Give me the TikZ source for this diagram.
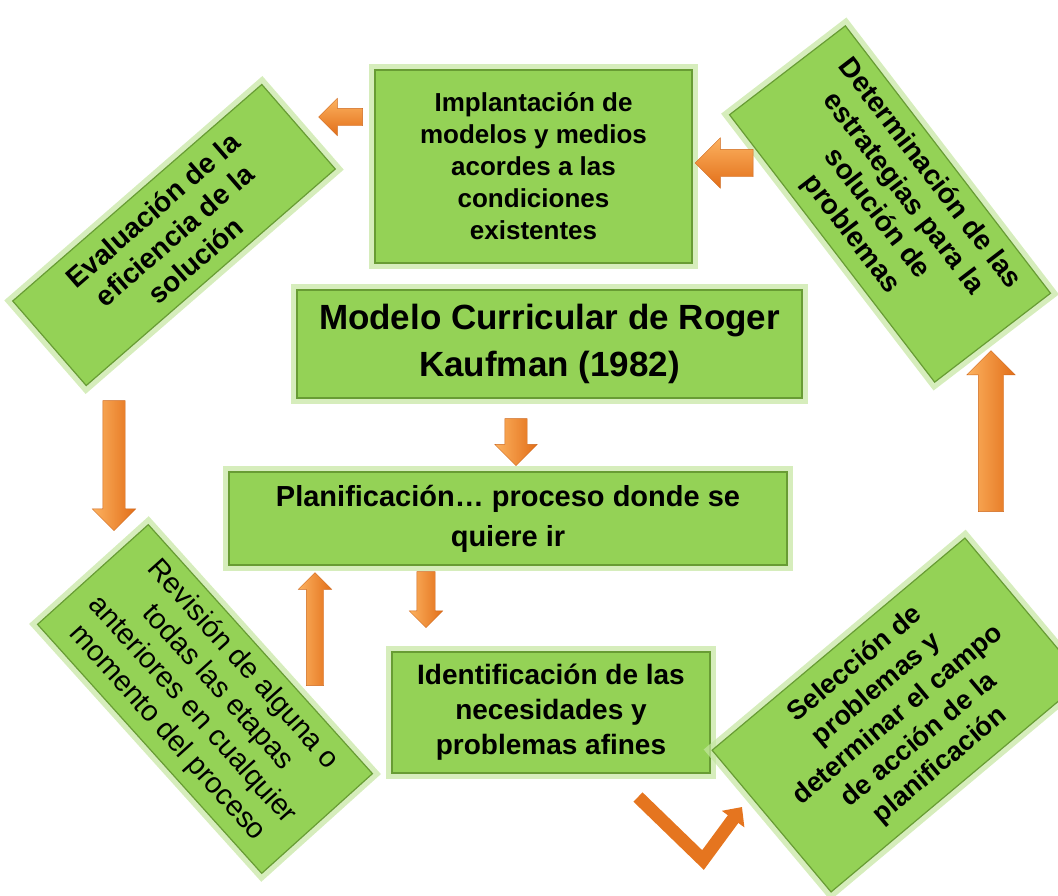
\documentclass[tikz,border=0pt]{standalone}
\usepackage{fontspec}
\setmainfont{Liberation Sans}
\usetikzlibrary{shapes.arrows,arrows.meta}

\definecolor{boxgreen}{RGB}{148,210,86}
\definecolor{boxedge}{RGB}{104,156,52}
\definecolor{boxglow}{RGB}{196,230,160}
\definecolor{arrowlight}{RGB}{252,178,96}
\definecolor{arrowdark}{RGB}{226,110,24}
\definecolor{arrowedge}{RGB}{205,104,30}

\tikzset{
  stage/.style={draw=boxedge, line width=1.2pt, fill=boxgreen, inner sep=0pt, align=center,
    preaction={draw=boxglow, line width=12pt, opacity=0.7}},
  flow/.style 2 args={single arrow, inner xsep=0pt, inner ysep=#1, single arrow head extend=#2,
    top color=arrowlight, bottom color=arrowdark, draw=arrowedge, line width=0.4pt},
  upright/.style={left color=arrowlight, right color=arrowdark},
  bentflow/.style={draw=arrowdark!90!arrowlight, line width=13pt, line join=miter,
    -{Triangle[width=27pt,length=15pt]}}
}

\begin{document}
\begin{tikzpicture}[x=1pt,y=-1pt]
    \useasboundingbox (0,0) rectangle (1058,895);
    \clip (0,0) rectangle (1058,895);

    % middle column
    \node[stage, minimum width=317pt, minimum height=193pt,
      font=\fontsize{26}{32}\selectfont\bfseries] (implant) at (533.5,166.5)
      {Implantación de\\modelos y medios\\acordes a las\\condiciones\\existentes};
    \node[stage, minimum width=505pt, minimum height=108pt,
      font=\fontsize{35}{47}\selectfont\bfseries] (modelo) at (549.5,344)
      {Modelo Curricular de Roger\\Kaufman (1982)};
    \node[stage, minimum width=558pt, minimum height=93pt,
      font=\fontsize{29}{40}\selectfont\bfseries] (plan) at (508,518.5)
      {Planificación… proceso donde se\\quiere ir};
    \node[stage, minimum width=318pt, minimum height=121pt,
      font=\fontsize{28}{35}\selectfont\bfseries] (ident) at (551,712.5)
      {Identificación de las\\necesidades y\\problemas afines};

    % tilted boxes round the cycle
    \node[stage, rotate=41, minimum width=330pt, minimum height=112pt,
      font=\fontsize{28}{33}\selectfont\bfseries] (evalua) at (174,235)
      {Evaluación de la\\eficiencia de la\\solución};
    \node[stage, rotate=-52.5, minimum width=337pt, minimum height=146pt,
      font=\fontsize{28}{33}\selectfont\bfseries] (estrat) at (890,204)
      {Determinación de las\\estrategias para la\\solución de\\problemas};
    \node[stage, rotate=-48, minimum width=335pt, minimum height=149pt,
      font=\fontsize{29}{34}\selectfont] (revis) at (205,699)
      {Revisión de alguna o\\todas las etapas\\anteriores en cualquier\\momento del proceso};
    \node[stage, rotate=40, minimum width=330pt, minimum height=185pt,
      font=\fontsize{27}{33}\selectfont\bfseries] (selec) at (898,715)
      {Selección de\\problemas y\\determinar el campo\\de acción de la\\planificación};

    % block arrows
    \node[flow={8.5pt}{10pt}, rotate=180, minimum height=44pt] (toeval) at (345,117) {};
    \node[flow={13.5pt}{11.5pt}, rotate=180, minimum height=58pt] (toimpl) at (731,163) {};
    \node[flow={11pt}{10.5pt}, upright, rotate=-90, minimum height=130pt] (torevis) at (114,460) {};
    \node[flow={12.5pt}{11.5pt}, upright, rotate=90, minimum height=161pt] (toestrat) at (991,437.5) {};
    \node[flow={11pt}{10pt}, upright, rotate=-90, minimum height=47pt] (toplan) at (516,436.5) {};
    \node[flow={9pt}{7.5pt}, upright, rotate=-90, minimum height=56pt] (toident) at (426,595) {};
    \node[flow={8.5pt}{8pt}, upright, rotate=90, minimum height=113pt] (backplan) at (315,633.5) {};

    \coordinate (vstart) at (638,797);
    \coordinate (vbend) at (703,860);
    \coordinate (vtip) at (742,807);
    \draw[bentflow] (vstart) -- (vbend) -- (vtip);
\end{tikzpicture}
\end{document}
